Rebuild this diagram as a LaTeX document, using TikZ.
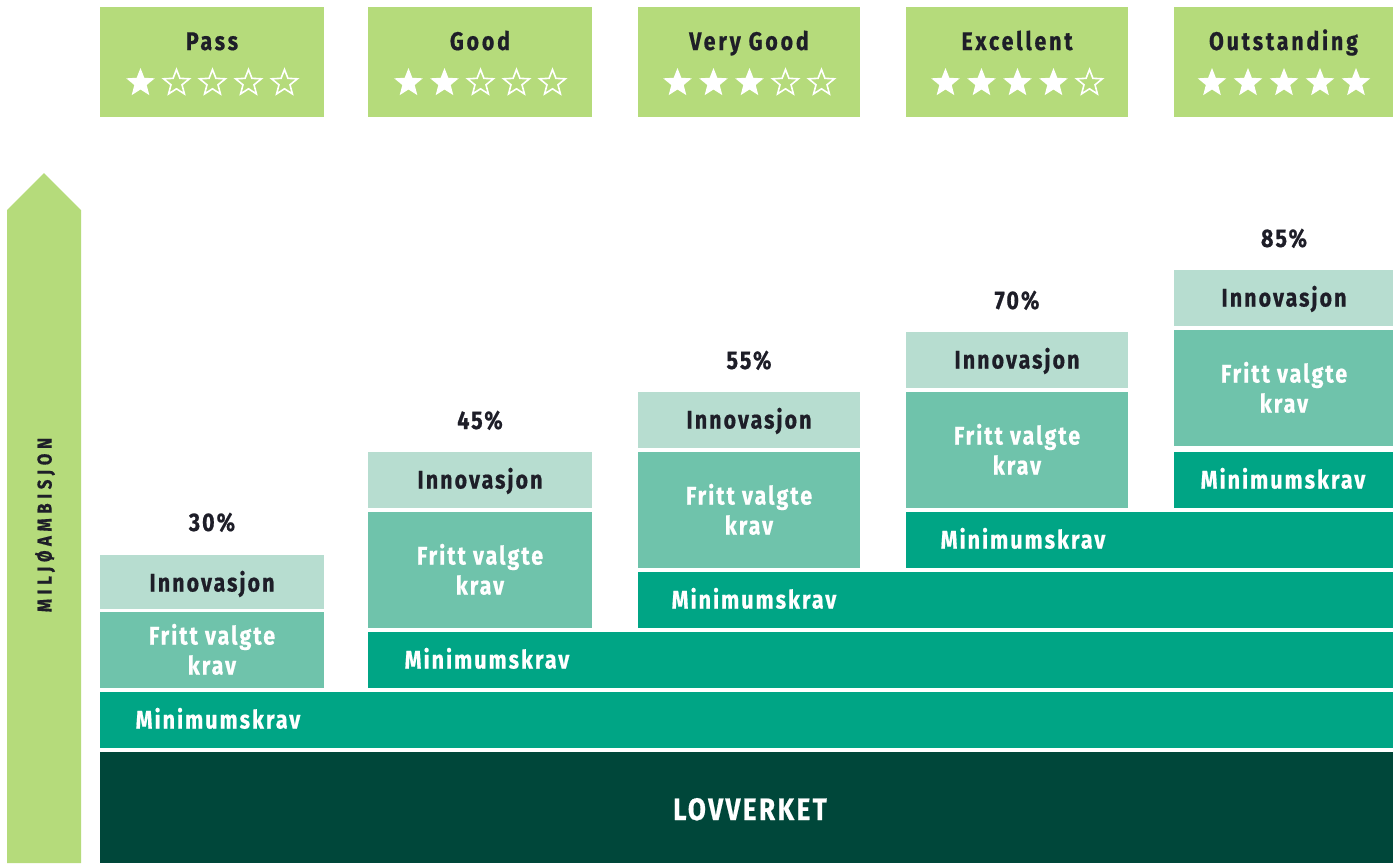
\documentclass[tikz,border=0pt]{standalone}
\usepackage{fontspec}
\setmainfont{Fira Sans}[FakeStretch=0.84, BoldFeatures={FakeBold=0.6}]
\usetikzlibrary{calc}
\definecolor{lgreen}{HTML}{B5DB7B}
\definecolor{innc}{HTML}{B7DDD0}
\definecolor{fritc}{HTML}{6FC3AB}
\definecolor{minc}{HTML}{00A585}
\definecolor{lovc}{HTML}{00473A}
\definecolor{darktxt}{HTML}{1E1E28}
\tikzset{
  box/.style={rectangle, inner sep=0pt, outer sep=0pt},
  lbl/.style={font=\fontsize{25.5}{30}\selectfont\bfseries\addfontfeatures{LetterSpace=8}, inner sep=0pt, anchor=base},
  dlbl/.style={lbl, text=darktxt},
  wlbl/.style={lbl, text=white},
  toplbl/.style={dlbl, font=\fontsize{25.5}{30}\selectfont\bfseries\addfontfeatures{LetterSpace=11}},
  fstar/.style={fill=white},
  ostar/.style={draw=white, line width=1.6pt, line join=miter},
}
\begin{document}
\begin{tikzpicture}[x=1pt,y=-1pt]
\useasboundingbox[fill=white] (0,0) rectangle (1393,863);
% arrow
\fill[lgreen] (7,863) -- (7,210) -- (44,173) -- (81,210) -- (81,863) -- cycle;
\node[text=darktxt, inner sep=0pt, rotate=90, font=\fontsize{20}{22}\selectfont\bfseries\addfontfeatures{LetterSpace=23}] (amb) at (45,525) {MILJØAMBISJON};
% top rating boxes
\foreach \cx/\w/\name/\n [count=\i] in {212/224/Pass/1, 480/224/Good/2, 749/222/Very Good/3, 1017/222/Excellent/4, 1283.5/219/Outstanding/5}{
  \node[box, fill=lgreen, minimum width=\w, minimum height=110] (top\i) at (\cx,62) {};
  \node[toplbl] (toplbl\i) at (\cx,50) {\name};
  \foreach \k in {1,...,5}{
    \pgfmathsetmacro{\sx}{\cx-71.5+36*(\k-1)}
    \coordinate (st\i-\k) at (\sx,83);
    \ifnum\k>\n
      \draw[ostar] ($(st\i-\k)+(90:13.5pt)$)
        \foreach \a/\r in {126/5.8,162/13.5,198/5.8,234/13.5,270/5.8,306/13.5,342/5.8,378/13.5,414/5.8}{ -- ($(st\i-\k)+(\a:\r pt)$) } -- cycle;
    \else
      \fill[fstar] ($(st\i-\k)+(90:15pt)$)
        \foreach \a/\r in {126/6.5,162/15,198/6.5,234/15,270/6.5,306/15,342/6.5,378/15,414/6.5}{ -- ($(st\i-\k)+(\a:\r pt)$) } -- cycle;
    \fi
  }
}
% lovverket
\node[box, fill=lovc, minimum width=1293, minimum height=111] (lov) at (746.5,807.5) {};
\node[wlbl, font=\fontsize{31}{34}\selectfont\bfseries\addfontfeatures{LetterSpace=8}] (lovt) at (750,820) {LOVVERKET};
% minimumskrav bands
\node[box, fill=minc, minimum width=1293, minimum height=56] (m1) at (746.5,720) {};
\node[box, fill=minc, minimum width=1025, minimum height=56] (m2) at (880.5,660) {};
\node[box, fill=minc, minimum width=755, minimum height=56] (m3) at (1015.5,600) {};
\node[box, fill=minc, minimum width=487, minimum height=56] (m4) at (1149.5,540) {};
\node[box, fill=minc, minimum width=219, minimum height=56] (m5) at (1283.5,480) {};
\node[wlbl] (m1t) at (218,728.5) {Minimumskrav};
\node[wlbl] (m2t) at (487,668.5) {Minimumskrav};
\node[wlbl] (m3t) at (754,608.5) {Minimumskrav};
\node[wlbl] (m4t) at (1023,548.5) {Minimumskrav};
\node[wlbl] (m5t) at (1283,488.5) {Minimumskrav};
% fritt valgte krav
\node[box, fill=fritc, minimum width=224, minimum height=76] (f1) at (212,650) {};
\node[box, fill=fritc, minimum width=224, minimum height=116] (f2) at (480,570) {};
\node[box, fill=fritc, minimum width=222, minimum height=116] (f3) at (749,510) {};
\node[box, fill=fritc, minimum width=222, minimum height=116] (f4) at (1017,450) {};
\node[box, fill=fritc, minimum width=219, minimum height=116] (f5) at (1283.5,388) {};
\foreach \x/\c [count=\i] in {212/650, 480/570, 749/510, 1017/450, 1284/388}{
  \node[wlbl] (f\i a) at (\x,\c-5.5) {Fritt valgte};
  \node[wlbl] (f\i b) at (\x,\c+24.5) {krav};
}
% innovasjon
\node[box, fill=innc, minimum width=224, minimum height=54] (i1) at (212,582) {};
\node[box, fill=innc, minimum width=224, minimum height=56] (i2) at (480,480) {};
\node[box, fill=innc, minimum width=222, minimum height=56] (i3) at (749,420) {};
\node[box, fill=innc, minimum width=222, minimum height=56] (i4) at (1017,360) {};
\node[box, fill=innc, minimum width=219, minimum height=56] (i5) at (1283.5,298) {};
\node[dlbl] (i1t) at (212,591.5) {Innovasjon};
\node[dlbl] (i2t) at (480,488.5) {Innovasjon};
\node[dlbl] (i3t) at (749,428.5) {Innovasjon};
\node[dlbl] (i4t) at (1017,368.5) {Innovasjon};
\node[dlbl] (i5t) at (1284,306.5) {Innovasjon};
% percentages
\node[dlbl] (p1) at (212,531) {30\%};
\node[dlbl] (p2) at (480,429) {45\%};
\node[dlbl] (p3) at (749,369) {55\%};
\node[dlbl] (p4) at (1017,309) {70\%};
\node[dlbl] (p5) at (1284,247) {85\%};
\end{tikzpicture}
\end{document}
